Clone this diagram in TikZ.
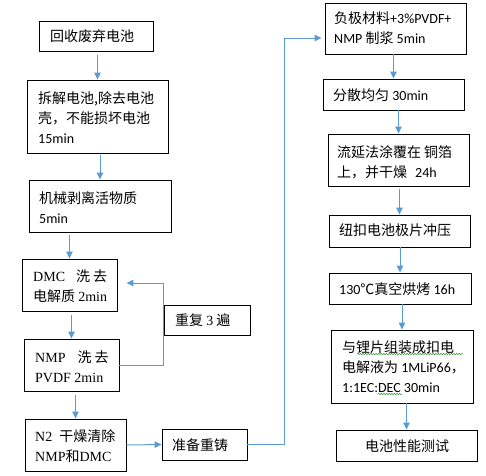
\documentclass[tikz,border=0pt]{standalone}
\usepackage{fontspec}
\setmainfont{Noto Sans CJK SC}
\newfontfamily\lat{Carlito}
\newfontfamily\tms{Liberation Serif}
\usetikzlibrary{arrows.meta,decorations.pathmorphing,calc}
\definecolor{arrblue}{HTML}{5B9BD5}
\definecolor{squig}{HTML}{3A9A3A}
\begin{document}
\begin{tikzpicture}[x=1pt,y=-1pt,
  box/.style={draw=black, line width=0.9pt, inner sep=0pt},
  txt/.style={anchor=west, align=left, inner sep=0pt, font=\fontsize{14}{20}\selectfont},
  arr/.style={draw=arrblue, line width=1pt, -{Triangle[width=6.5pt,length=7pt]}},
  wavy/.style={draw=squig, line width=0.5pt, decorate, decoration={snake, amplitude=0.8pt, segment length=2.6pt}}]
\useasboundingbox (0,0) rectangle (486,475);
% boxes
\node[box, minimum width=114pt, minimum height=30pt] (b1) at (96,36) {};
\node[box, minimum width=141pt, minimum height=73pt] (b2) at (97.5,116.5) {};
\node[box, minimum width=142pt, minimum height=52pt] (b3) at (100,206) {};
\node[box, minimum width=95pt, minimum height=52pt] (b4) at (69.5,285) {};
\node[box, minimum width=95pt, minimum height=52pt] (b5) at (71.5,365) {};
\node[box, minimum width=86pt, minimum height=30pt] (br) at (207,320) {};
\node[box, minimum width=101pt, minimum height=52pt] (b6) at (75.5,445) {};
\node[box, minimum width=85pt, minimum height=31pt] (b7) at (204.5,444.5) {};
\node[box, minimum width=141pt, minimum height=51pt] (b8) at (395.5,28.5) {};
\node[box, minimum width=141pt, minimum height=31pt] (b9) at (393.5,94.5) {};
\node[box, minimum width=141pt, minimum height=52pt] (b10) at (398.5,160) {};
\node[box, minimum width=141pt, minimum height=32pt] (b11) at (399.5,231) {};
\node[box, minimum width=142pt, minimum height=31pt] (b12) at (400,288.5) {};
\node[box, minimum width=142pt, minimum height=73pt] (b13) at (402,366.5) {};
\node[box, minimum width=141pt, minimum height=31pt] (b14) at (406.5,445.5) {};
% texts
\node[txt] (t1) at (50,36) {回收废弃电池};
\node[txt] (t2) at (38,118) {拆解电池,除去电池\\壳，不能损坏电池\\{\lat 15min}};
\node[txt] (t3) at (39,207.5) {机械剥离活物质\\{\lat 5min}};
\node[txt] (t4) at (33,286.5) {{\tms DMC}\hspace{11pt}洗\hspace{3pt}去\\电解质 {\tms 2min}};
\node[txt] (t5) at (35,366.5) {{\tms NMP}\hspace{12pt}洗\hspace{3pt}去\\{\tms PVDF 2min}};
\node[txt] (tr) at (175,320) {重复 {\tms 3} 遍};
\node[txt] (t6) at (35,446.5) {{\tms N2}\hspace{7pt}干燥清除\\{\tms NMP}和{\tms DMC}};
\node[txt] (t7) at (172,445) {准备重铸};
\node[txt] (t8) at (334,28.5) {负极材料{\lat +3\%PVDF+}\\{\lat NMP} 制浆 {\lat 5min}};
\node[txt] (t9) at (333,95) {分散均匀 {\lat 30min}};
\node[txt] (t10) at (337,162) {流延法涂覆在\hspace{3pt}铜箔\\上，并干燥\hspace{8pt}{\lat 24h}};
\node[txt] (t11) at (339,230) {纽扣电池极片冲压};
\node[txt] (t12) at (339,289) {{\lat 130}℃真空烘烤 {\lat 16h}};
\node[txt] (t13) at (342,367) {与锂片组装成扣电\\电解液为 {\lat 1MLiP66}，\\{\lat 1:1EC:DEC 30min}};
\node[txt] (t14) at (365,446) {电池性能测试};
% spell-check squiggles
\draw[wavy] (357,354) -- (463,354);
\draw[wavy] (378,394) -- (402,394);
% connectors
\draw[arr, shorten <=4pt] (b1.south -| b2.north) -- (b2.north);
\draw[arr, shorten <=2pt] (b2.south -| b3.north) -- (b3.north);
\draw[arr, shorten <=3pt] (b3.south -| b4.north) -- (b4.north);
\draw[arr, shorten <=4pt] (b4.south -| b5.north) -- (b5.north);
\draw[arr, shorten <=4pt] (b5.south -| b6.north) -- (b6.north);
\draw[arr, shorten >=9pt] (b5.east) -- ++(44,0) |- ([yshift=2pt]b4.east);
\draw[arr] (b6.east) -- (b7.west);
\draw[arr, shorten >=3pt] (b7.east) -- ++(37,0) |- ([yshift=-9.5pt]b8.west);
\draw[arr] (b8.south -| b9.north) -- (b9.north);
\draw[arr] (b9.south -| b10.north) -- (b10.north);
\draw[arr, shorten <=3pt] (b10.south -| b11.north) -- (b11.north);
\draw[arr] (b11.south -| b12.north) -- (b12.north);
\draw[arr] (b12.south -| b13.north) -- (b13.north);
\draw[arr] (b13.south -| b14.north) -- (b14.north);
\end{tikzpicture}
\end{document}
